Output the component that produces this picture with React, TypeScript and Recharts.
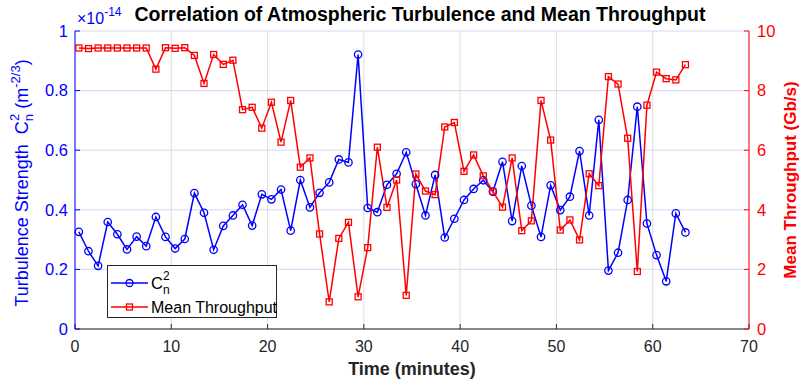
import { LineChart, Line, XAxis, YAxis, CartesianGrid, Legend } from "recharts";

const BLUE = "#0000ff";
const RED = "#ff0000";
const AXIS = "#262626";
const FONT = "'Liberation Sans', Arial, sans-serif";

// sample times (minutes)
const minutes = [
  0.4, 1.4, 2.4, 3.4, 4.4, 5.4, 6.4, 7.4, 8.4, 9.4, 10.4, 11.4, 12.4, 13.4, 14.4, 15.4,
  16.4, 17.4, 18.4, 19.4, 20.4, 21.4, 22.4, 23.4, 24.4, 25.4, 26.4, 27.4, 28.4, 29.4, 30.4, 31.4,
  32.4, 33.4, 34.4, 35.4, 36.4, 37.4, 38.4, 39.4, 40.4, 41.4, 42.4, 43.4, 44.4, 45.4, 46.4, 47.4,
  48.4, 49.4, 50.4, 51.4, 52.4, 53.4, 54.4, 55.4, 56.4, 57.4, 58.4, 59.4, 60.4, 61.4, 62.4, 63.4,
];

// Cn^2 in units of 1e-14 m^-2/3
const cn2 = [
  0.326, 0.261, 0.212, 0.359, 0.318, 0.267, 0.31, 0.278, 0.376, 0.309, 0.27, 0.302, 0.456, 0.39, 0.266, 0.346,
  0.381, 0.417, 0.347, 0.452, 0.435, 0.468, 0.33, 0.5, 0.408, 0.457, 0.492, 0.569, 0.559, 0.921, 0.406, 0.392,
  0.484, 0.521, 0.593, 0.486, 0.381, 0.517, 0.307, 0.37, 0.433, 0.47, 0.499, 0.461, 0.561, 0.362, 0.547, 0.414,
  0.309, 0.482, 0.399, 0.444, 0.597, 0.381, 0.702, 0.196, 0.256, 0.433, 0.746, 0.354, 0.248, 0.16, 0.388, 0.324,
];

// mean throughput, Gb/s
const throughput = [
  9.43, 9.41, 9.43, 9.43, 9.43, 9.43, 9.43, 9.43, 8.72, 9.44, 9.42, 9.44, 9.18, 8.24, 9.21, 8.88,
  9.02, 7.36, 7.44, 6.74, 7.61, 6.27, 7.67, 5.43, 5.74, 3.19, 0.91, 3.04, 3.58, 1.08, 2.73, 6.1,
  4.08, 5.0, 1.13, 5.2, 4.63, 4.51, 6.78, 6.93, 5.29, 5.84, 5.14, 4.62, 4.09, 5.74, 3.3, 3.63,
  7.67, 6.34, 3.32, 3.66, 2.99, 5.21, 4.81, 8.47, 8.22, 6.4, 1.93, 7.51, 8.62, 8.4, 8.36, 8.87,
];

const timeTicks = [0, 10, 20, 30, 40, 50, 60, 70];
const cn2Ticks = [0, 0.2, 0.4, 0.6, 0.8, 1];
const throughputTicks = [0, 2, 4, 6, 8, 10];

const data = minutes.map((t, i) => ({ t, cn2: cn2[i], tp: throughput[i] }));

const Square = (props: any) => {
  const { cx, cy, index } = props;
  if (cx == null || cy == null) return <g key={index} />;
  return (
    <rect key={index} x={cx - 3} y={cy - 3} width={6} height={6} fill="none" stroke={RED} strokeWidth={1.3} />
  );
};

const LegendBox = () => (
  <svg width={170} height={53} style={{ display: "block" }}>
    <rect x={0.5} y={0.5} width={169} height={52} fill="#fff" stroke={AXIS} strokeWidth={1} />
    <line x1={4} y1={18} x2={41} y2={18} stroke={BLUE} strokeWidth={1.5} />
    <circle cx={22.5} cy={18} r={3.5} fill="none" stroke={BLUE} strokeWidth={1.3} />
    <text x={44} y={24} fontSize={16.5} fill="#000" fontFamily={FONT}>
      C
      <tspan dy={5} fontSize={12}>n</tspan>
      <tspan dx={-6.5} dy={-14} fontSize={12}>2</tspan>
    </text>
    <line x1={4} y1={42} x2={41} y2={42} stroke={RED} strokeWidth={1.5} />
    <rect x={19.5} y={39} width={6} height={6} fill="none" stroke={RED} strokeWidth={1.3} />
    <text x={44} y={48} fontSize={16} fill="#000" fontFamily={FONT}>
      Mean Throughput
    </text>
  </svg>
);

export default function App() {
  return (
    <div style={{ position: "absolute", left: 0, top: 0, width: 800, height: 382, background: "#fff", fontFamily: FONT }}>
      <LineChart width={800} height={382} data={data} margin={{ top: 31, right: 0, bottom: 0, left: 0 }}>
        <CartesianGrid yAxisId="left" vertical={false} stroke="#d6d6f7" strokeWidth={1} />
        <CartesianGrid yAxisId="left" horizontal={false} stroke="#dedede" strokeWidth={1} />
        <XAxis
          dataKey="t"
          type="number"
          domain={[0, 70]}
          ticks={timeTicks}
          height={53}
          tickSize={-5}
          tickMargin={17}
          axisLine={{ stroke: AXIS }}
          tickLine={{ stroke: AXIS }}
          tick={{ fill: AXIS, fontSize: 16, fontFamily: FONT }}
          label={{ value: "Time (minutes)", position: "insideBottom", offset: 7, fill: AXIS, fontSize: 18, fontWeight: "bold", fontFamily: FONT }}
        />
        <XAxis
          xAxisId="top"
          orientation="top"
          dataKey="t"
          type="number"
          domain={[0, 70]}
          ticks={timeTicks}
          height={0}
          tickSize={-5}
          tickFormatter={() => ""}
          axisLine={{ stroke: AXIS }}
          tickLine={{ stroke: AXIS }}
        />
        <YAxis
          yAxisId="left"
          domain={[0, 1]}
          ticks={cn2Ticks}
          width={75}
          tickSize={-5}
          tickMargin={12}
          tickFormatter={(v: number) => String(v)}
          axisLine={{ stroke: BLUE }}
          tickLine={{ stroke: BLUE }}
          tick={{ fill: BLUE, fontSize: 16.5, fontFamily: FONT }}
        />
        <YAxis
          yAxisId="right"
          orientation="right"
          domain={[0, 10]}
          ticks={throughputTicks}
          width={51}
          tickSize={-5}
          tickMargin={13}
          axisLine={{ stroke: RED }}
          tickLine={{ stroke: RED }}
          tick={{ fill: RED, fontSize: 16.5, fontFamily: FONT }}
        />
        <Line
          yAxisId="left"
          dataKey="cn2"
          name="Cn2"
          stroke={BLUE}
          strokeWidth={1.5}
          dot={{ r: 3.7, stroke: BLUE, fill: "none", strokeWidth: 1.3 }}
          isAnimationActive={false}
        />
        <Line
          yAxisId="right"
          dataKey="tp"
          name="Mean Throughput"
          stroke={RED}
          strokeWidth={1.5}
          dot={Square}
          isAnimationActive={false}
        />
        <Legend
          layout="vertical"
          align="center"
          verticalAlign="middle"
          content={() => <LegendBox />}
          wrapperStyle={{ left: 107, top: 265, width: 170, height: 53 }}
        />
      </LineChart>
      <svg width={800} height={382} style={{ position: "absolute", left: 0, top: 0, pointerEvents: "none" }} fontFamily={FONT}>
        <text x={420} y={21} textAnchor="middle" fontSize={19.5} fontWeight="bold" fill="#000">
          Correlation of Atmospheric Turbulence and Mean Throughput
        </text>
        <text x={77} y={24} fontSize={16} fill={BLUE}>
          ×10
          <tspan dy={-8} fontSize={12}>-14</tspan>
        </text>
        <text transform="translate(28,183) rotate(-90)" textAnchor="middle" fontSize={18} fill={BLUE}>
          Turbulence Strength{"\u00a0\u00a0"}C
          <tspan dy={5} fontSize={13}>n</tspan>
          <tspan dx={-7} dy={-14} fontSize={13}>2</tspan>
          <tspan dy={9}>{"\u00a0"}(m</tspan>
          <tspan dy={-8} fontSize={13}>-2/3</tspan>
          <tspan dy={8}>)</tspan>
        </text>
        <text transform="translate(796,180) rotate(-90)" textAnchor="middle" fontSize={17} fontWeight="bold" fill={RED}>
          Mean Throughput (Gb/s)
        </text>
      </svg>
    </div>
  );
}
